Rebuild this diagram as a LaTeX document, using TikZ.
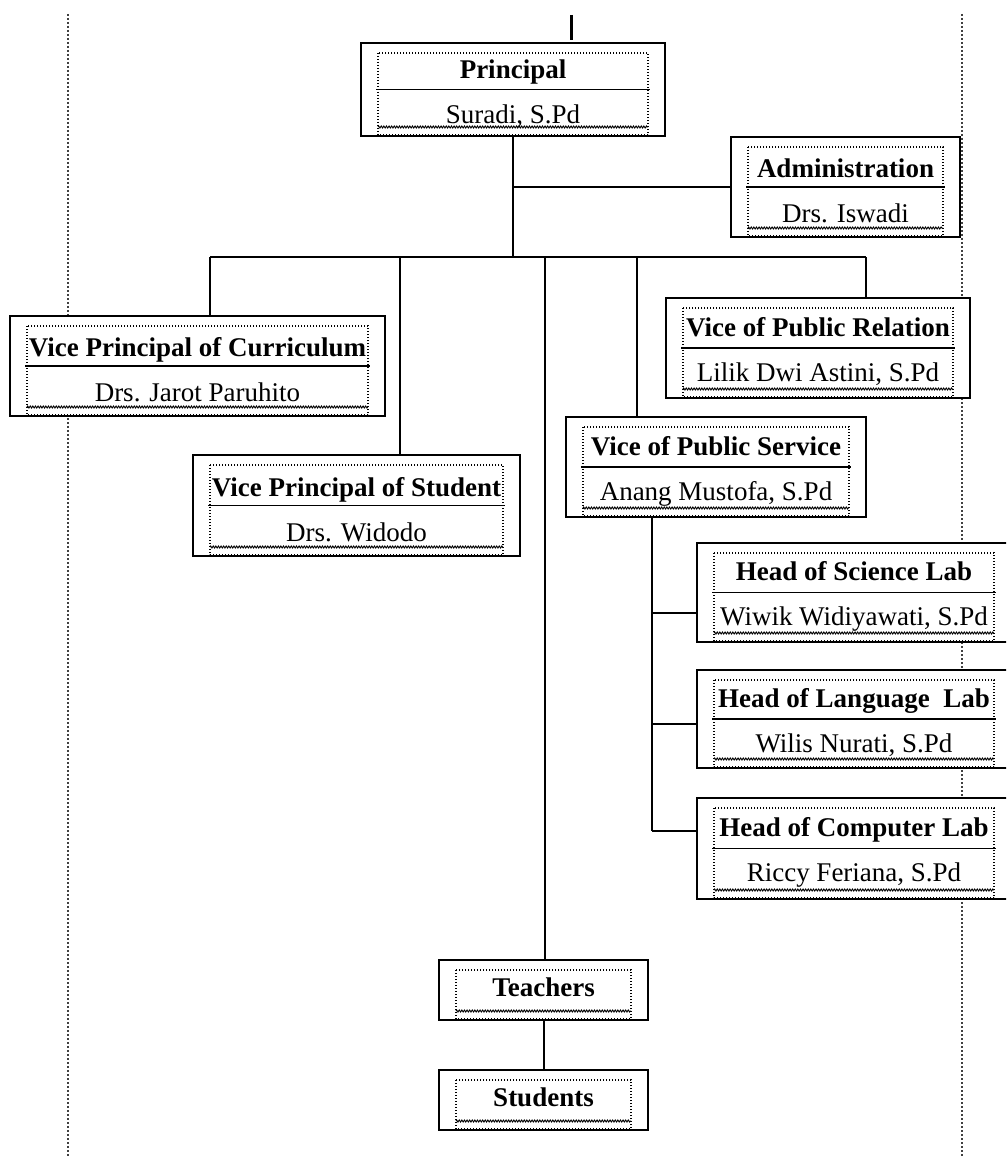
\documentclass[tikz,border=0pt]{standalone}
\usepackage{fontspec}
\setmainfont{Liberation Serif}
\usetikzlibrary{positioning, decorations.pathmorphing}

\tikzset{
  frame/.style={dash pattern=on 1.4pt off 1.6pt, line width=1.3pt},
  wave/.style={decorate, decoration={zigzag, amplitude=1pt, segment length=2.6pt}, line width=0.9pt},
  margin/.style={dash pattern=on 2pt off 2pt, line width=2pt, black!75},
  link/.style={line width=2pt},
  post/.style={draw, fill=white, line width=2pt, inner sep=0pt, align=center,
    font=\fontsize{27}{45}\selectfont,
    path picture={
      \draw[frame] ([xshift=17pt,yshift=-10pt]path picture bounding box.north west)
        rectangle ([xshift=-17pt,yshift=1pt]path picture bounding box.south east);
      \draw[wave] ([xshift=17pt,yshift=9pt]path picture bounding box.south west)
        -- ([xshift=-17pt,yshift=9pt]path picture bounding box.south east);
      \draw[line width=1.8pt] ([xshift=15pt]path picture bounding box.west)
        -- ([xshift=-15pt]path picture bounding box.east);
    }},
  postone/.style={draw, fill=white, line width=2pt, inner sep=0pt, align=center,
    font=\fontsize{27}{45}\selectfont,
    path picture={
      \draw[frame] ([xshift=17pt,yshift=-10pt]path picture bounding box.north west)
        rectangle ([xshift=-17pt,yshift=1pt]path picture bounding box.south east);
      \draw[wave] ([xshift=17pt,yshift=9pt]path picture bounding box.south west)
        -- ([xshift=-17pt,yshift=9pt]path picture bounding box.south east);
    }}
}
\newcommand{\lift}{\rule{0pt}{27pt}}

\begin{document}
\begin{tikzpicture}[x=1pt, y=-1pt]
        \useasboundingbox (0,0) rectangle (1006,1158);
        \clip (0,0) rectangle (1006,1158);

        % page margins
        \draw[margin] (68,14) -- (68,1158);
        \draw[margin] (962,14) -- (962,1158);
        \draw[line width=3pt] (571,15) -- (571,40);

        % connectors first, boxes on top
        \coordinate (bus) at (513,257);
        \coordinate (d_cur) at (210,257);
        \coordinate (d_stu) at (400,257);
        \coordinate (d_tea) at (545,257);
        \coordinate (d_ser) at (637,257);
        \coordinate (d_rel) at (866,257);
        \coordinate (labs) at (652,517);

        \node[post, minimum width=304, minimum height=93] (principal) at (513,89.5)
                {\lift\textbf{Principal}\\Suradi, S.Pd};
        \node[post, minimum width=229, minimum height=100] (admin) at (845.5,187)
                {\lift\textbf{Administration}\\Drs. Iswadi};
        \node[post, minimum width=375, minimum height=100] (curriculum) at (197.5,366)
                {\lift\textbf{Vice Principal of Curriculum}\\Drs. Jarot Paruhito};
        \node[post, minimum width=327, minimum height=101] (student) at (356.5,505.5)
                {\lift\textbf{Vice Principal of Student}\\Drs. Widodo};
        \node[post, minimum width=304, minimum height=100] (relation) at (818,348)
                {\lift\textbf{Vice of Public Relation}\\Lilik Dwi Astini, S.Pd};
        \node[post, minimum width=300, minimum height=100] (service) at (716,467)
                {\lift\textbf{Vice of Public Service}\\Anang Mustofa, S.Pd};
        \node[post, minimum width=314, minimum height=99] (science) at (854,592.5)
                {\lift\textbf{Head of Science Lab}\\Wiwik Widiyawati, S.Pd};
        \node[post, minimum width=314, minimum height=98] (language) at (854,719)
                {\lift\textbf{Head of Language~ Lab}\\Wilis Nurati, S.Pd};
        \node[post, minimum width=314, minimum height=101] (computer) at (854,848.5)
                {\lift\textbf{Head of Computer Lab}\\Riccy Feriana, S.Pd};
        \node[postone, minimum width=209, minimum height=60] (teachers) at (543.5,990)
                {\raisebox{5pt}{\textbf{Teachers}}};
        \node[postone, minimum width=209, minimum height=60] (students) at (543.5,1100)
                {\raisebox{5pt}{\textbf{Students}}};

        \coordinate (b_sci) at ([yshift=-20pt]science.west);
        \coordinate (b_lan) at ([yshift=-5pt]language.west);
        \coordinate (b_com) at ([yshift=18pt]computer.west);

        \path[link]
                (principal.south) edge (bus)
                (principal.south |- admin.west) edge (admin.west)
                (d_cur) edge (d_rel)
                (d_cur) edge (d_cur |- curriculum.north)
                (d_stu) edge (d_stu |- student.north)
                (d_tea) edge (d_tea |- teachers.north)
                (d_ser) edge (d_ser |- service.north)
                (d_rel) edge (d_rel |- relation.north)
                (labs) edge (labs |- b_com)
                (labs |- b_sci) edge (b_sci)
                (labs |- b_lan) edge (b_lan)
                (labs |- b_com) edge (b_com)
                (teachers.south) edge (students.north);
    \end{tikzpicture}
\end{document}
